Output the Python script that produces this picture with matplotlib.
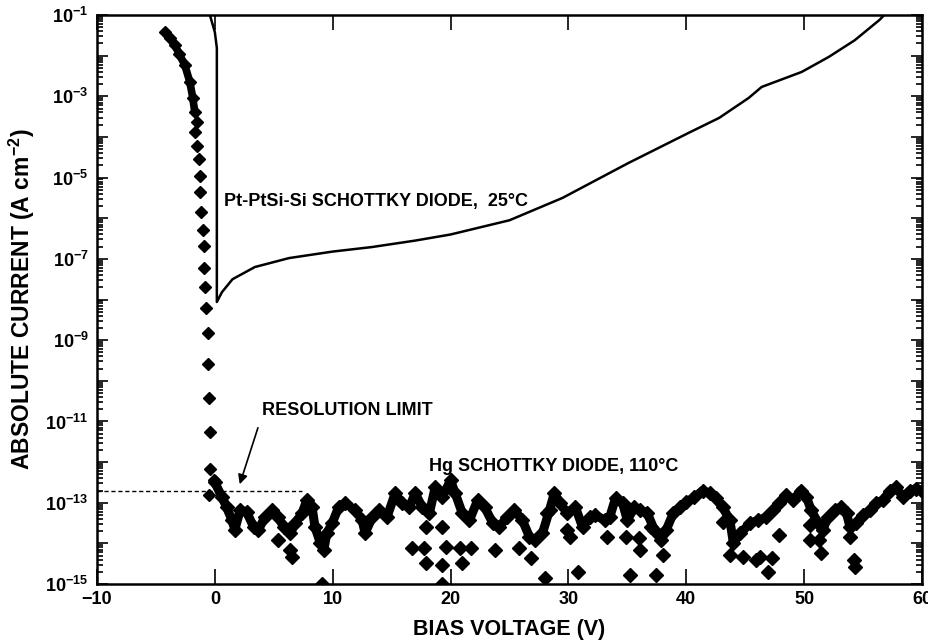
import numpy as np
import matplotlib.pyplot as plt
from matplotlib.ticker import FixedLocator, LogLocator, FuncFormatter, NullFormatter

plt.rcParams['font.family'] = ['Liberation Sans', 'DejaVu Sans']
plt.rcParams['font.weight'] = 'bold'
plt.rcParams['mathtext.fontset'] = 'custom'
plt.rcParams['mathtext.rm'] = 'Liberation Sans:bold'
plt.rcParams['mathtext.bf'] = 'Liberation Sans:bold'
plt.rcParams['mathtext.default'] = 'bf'

# Pt-PtSi-Si diode, 25 C  (log10 of current density)
pt_v = [-0.42, 0.0, 0.17, 0.17, 0.17, 0.6, 1.5, 3.4, 6.3, 10.0, 13.3, 17.0, 20.0, 25.0,
        29.5, 35.1, 40.2, 42.8, 45.3, 46.4, 49.8, 52.1, 54.3, 56.4, 56.8]
pt_log = [-1.0, -1.42, -1.81, -4.0, -8.06, -7.82, -7.5, -7.2, -6.98, -6.82, -6.71, -6.55, -6.4, -6.05,
          -5.5, -4.64, -3.9, -3.53, -3.04, -2.77, -2.4, -2.03, -1.62, -1.12, -1.0]

# Hg diode, 110 C : steep reverse branch
hg_fall_v = [-4.24, -3.8, -3.4, -3.0, -2.55, -2.12, -1.87, -1.7]
hg_fall_log = [-1.42, -1.57, -1.74, -1.97, -2.23, -2.65, -3.04, -3.39]
hg_dot_v = [-1.53, -1.67, -1.53, -1.36, -1.27, -1.27, -1.19, -1.02, -0.93, -0.93, -0.85,
            -0.76, -0.59, -0.59, -0.51, -0.42, -0.42, -0.08, -0.51]
hg_dot_log = [-3.63, -3.88, -4.22, -4.54, -4.96, -5.36, -5.85, -6.29, -6.68, -7.23, -7.69,
              -8.21, -8.82, -9.59, -10.42, -11.26, -12.17, -12.44, -12.81]

# Hg diode: noise floor trace
hg_v = [0.0, 0.6, 1.0, 1.45, 1.7, 2.15, 2.7, 3.3, 3.7, 4.25, 4.85, 5.4, 5.85, 6.4, 6.8, 7.4,
        7.8, 8.25, 8.5, 8.95, 9.25, 9.5, 9.95, 10.5, 11.05, 11.9, 12.5, 12.75, 13.35, 13.9,
        14.6, 15.3, 15.9, 16.5, 17.0, 17.6, 18.2, 18.7, 19.3, 20.0, 20.4, 21.0, 21.6, 22.3,
        22.9, 23.6, 24.1, 24.8, 25.4, 26.1, 26.7, 27.2, 27.8, 28.4, 28.8, 29.3, 29.9, 30.6,
        31.2, 31.8, 32.3, 33.1, 33.5, 34.0, 34.6, 35.0, 35.6, 36.1, 36.7, 37.3, 37.85, 38.3,
        38.9, 39.5, 40.0, 40.7, 41.4, 42.0, 42.5, 43.1, 43.7, 44.0, 44.6, 45.4, 46.1, 46.8,
        47.4, 47.9, 48.5, 49.1, 49.7, 50.2, 50.6, 51.2, 51.6, 52.0, 52.6, 53.1, 53.6, 53.9,
        54.4, 55.0, 55.6, 56.1, 56.7, 57.3, 57.8, 58.4, 59.0, 59.5, 60.0]
hg_log = [-12.50, -12.86, -13.11, -13.43, -13.66, -13.18, -13.23, -13.60, -13.66, -13.36, -13.18,
          -13.36, -13.60, -13.75, -13.51, -13.26, -12.94, -13.11, -13.60, -13.99, -14.16, -13.75,
          -13.51, -13.11, -13.01, -13.18, -13.43, -13.75, -13.36, -13.18, -13.36, -12.77, -13.01,
          -13.11, -12.77, -13.11, -13.26, -12.62, -12.86, -12.45, -12.77, -13.26, -13.43, -12.94,
          -13.11, -13.51, -13.60, -13.36, -13.18, -13.43, -13.84, -13.92, -13.75, -13.18,
          -12.77, -13.01, -13.26, -13.11, -13.60, -13.36, -13.31, -13.43, -13.36, -12.89, -13.01,
          -13.43, -13.11, -13.18, -13.26, -13.67, -13.92, -13.67, -13.26, -13.11, -12.99, -12.87,
          -12.70, -12.77, -12.89, -13.11, -13.43, -13.99, -13.75, -13.51, -13.43, -13.36,
          -13.18, -13.01, -12.82, -12.94, -12.70, -12.86, -13.18, -13.51, -13.67, -13.36, -13.18,
          -13.11, -13.26, -13.60, -13.51, -13.31, -13.18, -13.01, -12.94, -12.70, -12.62, -12.86,
          -12.70, -12.65, -12.70]

# Hg diode: scattered low readings
hg_low_v = [5.4, 6.4, 6.55, 9.1, 16.75, 17.75, 17.9, 17.9, 19.3, 19.3, 19.6, 20.8, 21.0, 21.7,
            23.8, 25.8, 26.8, 28.2, 28.0, 19.3, 29.9, 30.1, 30.8, 33.3, 34.9, 35.2, 36.0, 36.1,
            37.0, 37.4, 38.0, 43.1, 43.7, 44.8, 45.9, 46.3, 46.9, 47.3, 47.9, 50.5, 50.5, 51.3,
            51.4, 53.9, 54.2, 54.3]
hg_low_log = [-13.92, -14.16, -14.33, -15.0, -14.11, -14.11, -14.48, -13.60, -14.53, -13.60,
              -14.09, -14.11, -14.48, -14.11, -14.16, -14.11, -14.36, -13.26, -14.85, -15.0,
              -13.67, -13.84, -14.70, -13.84, -13.84, -14.77, -13.87, -14.16, -13.60, -14.79,
              -14.28, -13.48, -14.28, -14.33, -14.40, -14.33, -14.70, -14.36, -13.79, -13.55,
              -13.92, -13.92, -14.23, -13.84, -14.40, -14.57]

res_limit = 2.0e-13

fig = plt.figure(figsize=(9.29, 6.42), dpi=100)
ax = fig.add_axes([0.1044, 0.0903, 0.888, 0.8863])

ax.plot(pt_v, 10.0 ** np.array(pt_log), color='black', lw=1.8)

ax.plot(hg_fall_v, 10.0 ** np.array(hg_fall_log), color='black', lw=5.5, marker='D', ms=6,
        solid_capstyle='round')
ax.plot(hg_dot_v, 10.0 ** np.array(hg_dot_log), ls='none', color='black', marker='D', ms=6.5)
ax.plot(hg_v, 10.0 ** np.array(hg_log), color='black', lw=6.5, marker='D', ms=7.5,
        solid_joinstyle='round', solid_capstyle='round')
ax.plot(hg_low_v, 10.0 ** np.array(hg_low_log), ls='none', color='black', marker='D', ms=7.5)

ax.plot([-10, 7.4], [res_limit, res_limit], color='black', lw=1, ls=(0, (3, 2)))

ax.set_yscale('log')
ax.set_xlim(-10, 60)
ax.set_ylim(1e-15, 1e-1)

ax.xaxis.set_major_locator(FixedLocator([-10, 0, 10, 20, 30, 40, 50, 60]))
ax.xaxis.set_major_formatter(FuncFormatter(lambda v, p: '\u2212%d' % -v if v < 0 else '%d' % v))
ax.yaxis.set_major_locator(LogLocator(base=10, numticks=30))
ax.yaxis.set_minor_locator(LogLocator(base=10, subs=np.arange(2, 10), numticks=30))
ax.yaxis.set_minor_formatter(NullFormatter())


def ylab(v, p):
    e = int(round(np.log10(v)))
    return r'$10^{%d}$' % e if e % 2 != 0 else ''


ax.yaxis.set_major_formatter(FuncFormatter(ylab))
ax.tick_params(axis='both', which='both', direction='in', top=True, right=True, width=1.2)
ax.tick_params(axis='x', which='major', length=11, labelsize=13, pad=5)
ax.tick_params(axis='y', which='major', length=8, labelsize=13, pad=6)
ax.tick_params(axis='y', which='minor', length=4)
for s in ax.spines.values():
    s.set_linewidth(1.8)

ax.set_xlabel('BIAS VOLTAGE (V)', fontsize=15.5, fontweight='bold', labelpad=8)
ax.set_ylabel(r'ABSOLUTE CURRENT (A cm$^{-2}$)', fontsize=16.5, fontweight='bold', labelpad=6)

ax.text(0.76, 10 ** -5.6, 'Pt-PtSi-Si SCHOTTKY DIODE,  25\u00b0C', fontsize=13,
        fontweight='bold', va='center')
ax.text(4.0, 10 ** -10.72, 'RESOLUTION LIMIT', fontsize=13, fontweight='bold', va='center')
ax.text(18.2, 10 ** -12.12, 'Hg SCHOTTKY DIODE, 110\u00b0C', fontsize=13, fontweight='bold',
        va='center')
ax.annotate('', xy=(2.04, 10 ** -12.61), xytext=(3.73, 10 ** -11.09),
            arrowprops=dict(arrowstyle='-|>', color='black', lw=1.2, mutation_scale=14))

fig.savefig('out.png', dpi=100)
